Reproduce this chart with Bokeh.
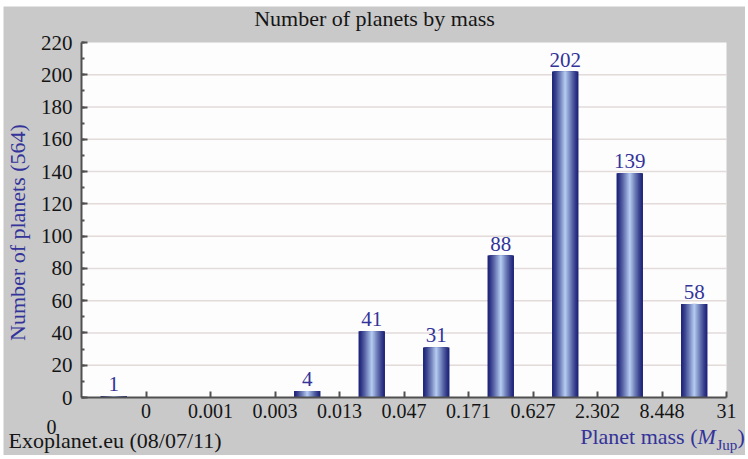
from bokeh.plotting import figure
from bokeh.models import Range1d, FixedTicker, Label, ColumnDataSource, BoxAnnotation
from bokeh.core.properties import value
from bokeh.embed import file_html
from bokeh.resources import INLINE
import math

# ---- data ----
bin_index = [0, 1, 2, 3, 4, 5, 6, 7, 8, 9]
counts = [1, 0, 0, 4, 41, 31, 88, 202, 139, 58]
edge_labels = ["0", "0.001", "0.003", "0.013", "0.047", "0.171", "0.627", "2.302", "8.448", "31"]
y_ticks = [0, 20, 40, 60, 80, 100, 120, 140, 160, 180, 200, 220]
title_text = "Number of planets by mass"
y_label_text = "Number of planets (564)"
source_text = "Exoplanet.eu (08/07/11)"
x_label_parts = ["Planet mass (", "M", "Jup", ")"]

FONT = "Liberation Serif"
BLUE = "#333399"
BG = "#c9c9c9"
INK = "#151515"

# ---- layout (pixels) ----
W, H = 742, 449
PL, PR, PT, PB = 78, 723, 36, 391          # plot area in figure pixels
XMAX, YMAX = len(bin_index), y_ticks[-1]
sx = (PR - PL) / XMAX
sy = (PB - PT) / YMAX
x_range = Range1d(-PL / sx, XMAX + (W - PR) / sx)
y_range = Range1d(-(H - PB) / sy, YMAX + PT / sy)

src = ColumnDataSource(dict(
    x=[i + 0.5 for i in bin_index],
    top=counts,
    label=[str(c) if c > 0 else "" for c in counts],
))

p = figure(width=W, height=H, output_backend="svg", toolbar_location=None,
           x_range=x_range, y_range=y_range, min_border=0)
p.margin = (6, 3, 4, 3)
p.border_fill_color = BG
p.background_fill_color = BG
p.outline_line_color = None
p.xgrid.visible = False
p.ygrid.visible = False

# white plot area
p.add_layout(BoxAnnotation(left=0, right=XMAX, bottom=0, top=YMAX, fill_color="#fdfdfd",
                           fill_alpha=1, line_color=None, level="underlay"))
# horizontal grid lines
gy = y_ticks[1:-1]
p.segment(x0=[0] * len(gy), x1=[XMAX] * len(gy), y0=gy, y1=gy, line_color="#e3dada", line_width=1.5)

# bars as layered strips for a cylinder-like gradient
bar_w = 0.41
n = 16
dark = (30, 36, 120)
light = (178, 200, 238)
for k in range(n):
    t = k / (n - 1)
    tt = t ** 1.2
    c = tuple(int(dark[j] + (light[j] - dark[j]) * tt) for j in range(3))
    w = bar_w * (1 - k / n)
    p.vbar(x="x", top="top", bottom=0, width=w, source=src,
           fill_color="#%02x%02x%02x" % c, line_color=None)

p.text(x="x", y="top", text="label", source=src, y_offset=-12,
       text_align="center", text_baseline="middle",
       text_font=value(FONT), text_font_size="21px", text_color=BLUE)

# axes (drawn at fixed data locations)
for ax in (p.xaxis, p.yaxis):
    ax.axis_line_color = "#505050"
    ax.axis_line_width = 2
    ax.major_tick_line_color = "#505050"
    ax.major_tick_line_width = 2
    ax.minor_tick_line_color = "#505050"
    ax.minor_tick_line_width = 2
    ax.major_tick_in = 6
    ax.major_tick_out = 0
    ax.minor_tick_in = 3
    ax.minor_tick_out = 0
    ax.major_label_text_font = FONT
    ax.major_label_text_color = INK

p.xaxis.fixed_location = 0
p.xaxis.bounds = (0, XMAX)
p.xaxis.ticker = FixedTicker(ticks=[i + 1 for i in bin_index])
p.xaxis.major_label_overrides = {i + 1: lbl for i, lbl in zip(bin_index, edge_labels)}
p.xaxis.major_label_standoff = 6
p.xaxis.major_label_text_font_size = "20px"
p.yaxis.fixed_location = 0
p.yaxis.bounds = (0, YMAX)
p.yaxis.ticker = FixedTicker(ticks=y_ticks, minor_ticks=list(range(0, YMAX + 1, 10)))
p.yaxis.major_label_standoff = 9
p.yaxis.major_label_text_font_size = "21px"


def lab(text, px, py, align="left", size="22px", color=INK, style="normal", angle=0):
    # px, py: page pixel position (figure sits at page offset 3, 6)
    p.add_layout(Label(x=px - 3, y=H - (py - 6), x_units="screen", y_units="screen",
                       text=text, text_align=align, text_baseline="middle", angle=angle,
                       text_font=FONT, text_font_size=size, text_font_style=style,
                       text_color=color))


lab(title_text, 374, 18, align="center")
lab(y_label_text, 17, 232, align="center", color=BLUE, angle=math.pi / 2)
lab("0", 51, 426, align="center", size="20px")
lab(source_text, 8, 440)
lab(x_label_parts[0], 697, 436, align="right", color=BLUE)
lab(x_label_parts[1], 697, 436, color=BLUE, style="italic")
lab(x_label_parts[2], 716, 444, size="15px", color=BLUE)
lab(x_label_parts[3], 737, 436, color=BLUE)

open("out.html", "w").write(file_html(p, INLINE))
